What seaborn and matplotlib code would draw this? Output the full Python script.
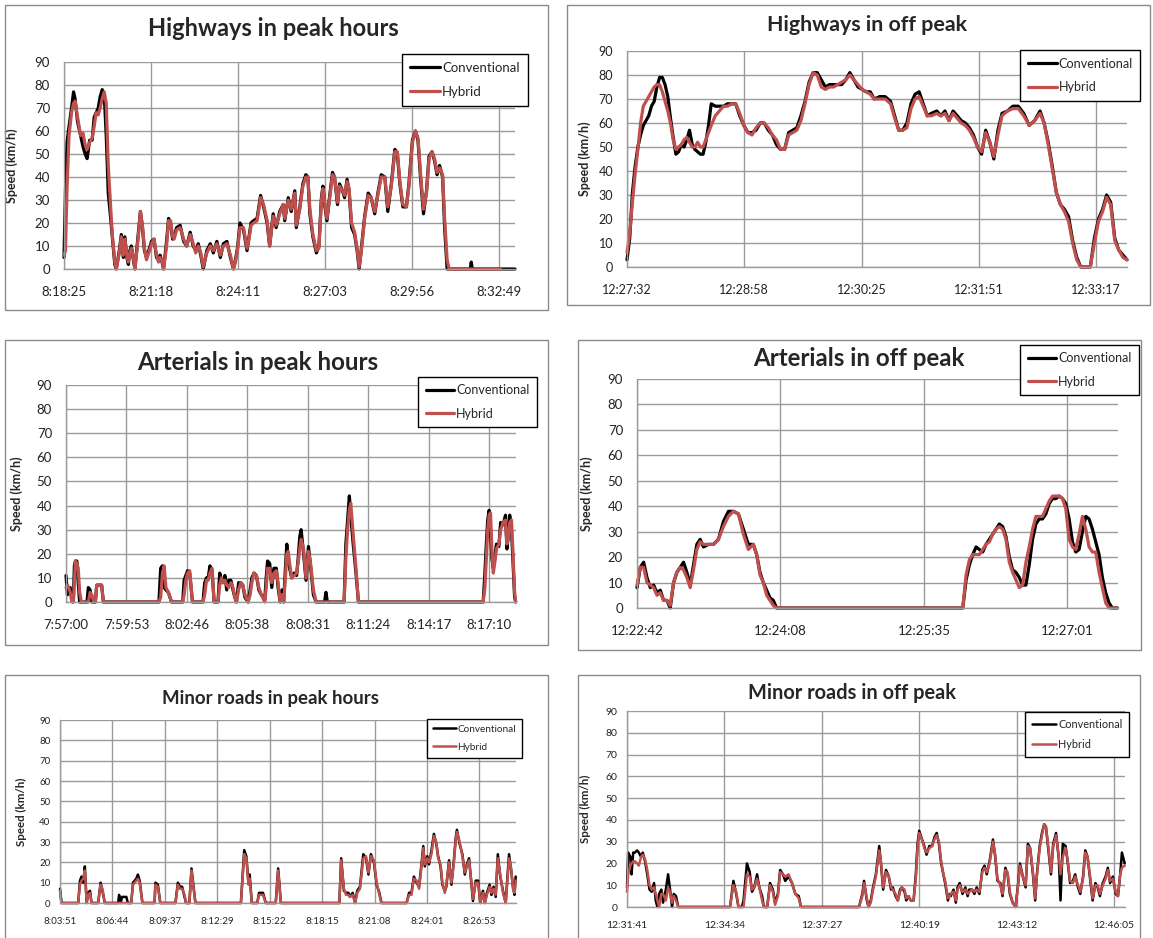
import numpy as np
import pandas as pd
import matplotlib
matplotlib.use("Agg")
import matplotlib.pyplot as plt
import seaborn as sns
from matplotlib.patches import Rectangle
from matplotlib.lines import Line2D

# ---------------- DATA ----------------
# Highways in peak hours (seconds from 8:18:25)
hp_t = [0, 3, 6, 10, 15, 19, 22, 27, 33, 38, 42, 46, 51, 56, 60, 64, 68, 72, 76, 80, 84, 88, 92, 96, 101, 104,
        110, 114, 118, 121, 125, 128, 131, 134, 138, 141, 145, 149, 152, 156, 160, 164, 170, 174, 179, 184,
        188, 191, 195, 198, 204, 208, 212, 216, 219, 224, 231, 238, 244, 251, 257, 262, 267, 272, 277, 284,
        291, 297, 304, 311, 317, 324, 331, 337, 341, 345, 350, 357, 364, 368, 372, 377, 384, 391, 397, 404,
        409, 416, 422, 429, 436, 439, 446, 452, 459, 462, 469, 475, 481, 485, 489, 495, 502, 507, 512, 515,
        519, 523, 528, 534, 538, 544, 548, 554, 558, 563, 567, 572, 578, 583, 587, 591, 598, 605, 611, 618,
        625, 631, 638, 644, 651, 658, 663, 668, 674, 681, 686, 693, 699, 704, 709, 715, 721, 726, 732, 737,
        742, 747, 753, 757, 762, 766, 808, 810, 812, 868, 897]
hp_conv = [5, 35, 55, 62, 70, 77, 74, 64, 58, 53, 50, 48, 56, 56, 66, 68, 70, 75, 78, 76, 58, 33, 24, 14, 2, 0,
           8, 15, 5, 14, 5, 2, 8, 10, 4, 0, 9, 18, 25, 18, 8, 5, 9, 12, 13, 5,
           4, 6, 3, 0, 12, 22, 20, 13, 14, 18, 19, 12, 10, 16, 10, 8, 11, 6, 0, 8,
           11, 7, 12, 5, 11, 12, 5, 0, 4, 9, 20, 17, 8, 14, 20, 21, 22, 32, 27, 20,
           10, 24, 18, 25, 28, 21, 31, 25, 34, 18, 27, 37, 41, 40, 24, 14, 7, 10, 31, 36,
           27, 21, 31, 42, 40, 28, 37, 34, 31, 39, 34, 18, 15, 8, 0, 8, 23, 33, 31, 24,
           34, 41, 40, 25, 37, 52, 50, 37, 27, 27, 37, 56, 60, 56, 40, 24, 34, 49, 51, 47,
           41, 45, 40, 18, 0, 0, 0, 3, 0, 0, 0]
hp_hyb = [6, 8, 35, 58, 68, 72, 73, 66, 58, 59, 54, 52, 55, 57, 62, 68, 67, 70, 74, 77, 72, 45, 30, 15, 3, 0,
          7, 14, 6, 13, 6, 3, 7, 9, 5, 0, 8, 17, 25, 19, 9, 4, 8, 11, 13, 6,
          3, 5, 4, 0, 10, 21, 21, 14, 13, 17, 18, 13, 10, 15, 11, 7, 10, 7, 1, 7,
          10, 8, 11, 6, 10, 11, 6, 0, 3, 8, 18, 18, 9, 13, 19, 20, 21, 31, 28, 21,
          10, 23, 19, 24, 28, 22, 30, 26, 33, 19, 26, 36, 40, 40, 26, 15, 8, 9, 30, 35,
          28, 22, 30, 41, 40, 29, 36, 34, 32, 38, 35, 20, 16, 9, 1, 7, 22, 32, 31, 25,
          33, 40, 40, 27, 36, 51, 51, 38, 28, 27, 36, 55, 60, 57, 42, 26, 33, 48, 51, 48,
          42, 44, 41, 22, 4, 0, 0, 0, 0, 0, np.nan]
hp_labels = ["8:18:25", "8:21:18", "8:24:11", "8:27:03", "8:29:56", "8:32:49"]

# Highways in off peak (seconds from 12:27:32)
ho_t = [0, 2, 4, 6, 8, 10, 12, 14, 16, 18, 20, 22, 24, 26, 28, 30, 32, 34, 36, 38, 40, 42, 44, 46, 48, 50,
        52, 54, 56, 58, 60, 62,
        65, 68, 71, 74, 77, 80, 83, 86, 89, 92, 95, 98, 101, 104, 107, 110, 113, 116, 119, 122, 125, 128,
        131, 134, 137, 140, 143, 146, 149, 152, 155, 158, 161, 164, 167, 170, 173,
        176, 179, 182, 186, 190, 194, 197, 200, 203, 206, 209, 212, 215, 218, 221, 224, 228, 231, 234, 237,
        240, 243, 246, 249, 252, 255, 258, 261, 264, 267, 270, 273, 276, 280, 284, 288, 292, 296, 300, 304,
        307, 310, 313, 316, 319, 322, 325, 328, 331, 334, 338, 341, 344, 347, 350, 353, 356, 359, 362, 365, 368]
ho_conv = [3, 12, 31, 42, 50, 55, 59, 61, 63, 67, 69, 75, 79, 79, 76, 71, 62, 54, 47, 48, 51, 50, 53, 57, 51, 49,
           48, 47, 47, 52, 59, 68,
           67, 67, 67, 68, 68, 68, 63, 59, 56, 56, 57, 60, 60, 57, 55, 51, 49, 49, 56, 57, 58, 63,
           69, 77, 81, 81, 78, 75, 76, 76, 76, 76, 78, 81, 78, 75, 74,
           73, 73, 70, 71, 71, 69, 63, 57, 57, 60, 68, 72, 73, 68, 63, 64, 65, 63, 65, 61,
           65, 63, 61, 60, 58, 55, 50, 47, 57, 52, 45, 57, 64, 65, 67, 67, 64, 59, 61, 65,
           60, 52, 42, 31, 26, 24, 21, 11, 4, 0, 0, 0, 12, 20, 24, 30, 27, 12, 7, 5, 3]
ho_hyb = [6, 14, 27, 39, 49, 60, 67, 69, 71, 73, 75, 76, 76, 73, 69, 65, 60, 53, 49, 50, 51, 53, 54, 52, 50, 50,
          52, 50, 50, 53, 56, 59,
          63, 65, 67, 67, 68, 68, 64, 59, 56, 55, 58, 60, 60, 58, 55, 53, 49, 49, 55, 56, 57, 61,
          68, 76, 81, 80, 75, 74, 75, 75, 76, 77, 78, 80, 78, 76, 74,
          73, 72, 70, 70, 70, 68, 62, 57, 57, 58, 66, 70, 71, 67, 63, 63, 64, 63, 64, 61,
          64, 62, 60, 59, 57, 54, 50, 48, 56, 52, 46, 55, 63, 65, 66, 66, 63, 59, 61, 64,
          60, 51, 41, 31, 26, 23, 19, 10, 3, 0, 0, 0, 10, 19, 23, 29, 26, 11, 7, 4, 3]
ho_labels = ["12:27:32", "12:28:58", "12:30:25", "12:31:51", "12:33:17"]

# Arterials in peak hours (seconds from 7:57:00)
ap_t = [0, 4, 8, 12, 17, 21, 24, 27, 31, 35, 39, 44, 60, 64, 69, 74, 79, 84, 88, 92,
        102, 107, 266, 271, 276, 281, 286, 293, 302, 334, 338, 343, 348, 354, 362, 392, 397, 402, 407, 412,
        418, 424, 435, 440, 445, 449, 455, 460, 466, 472, 478, 483, 488, 494, 500, 506, 512, 521, 527, 532,
        538, 545, 552, 559, 569, 573, 577, 583, 589, 595, 602, 607, 613, 618, 623, 628, 632, 636, 640, 646,
        653, 660, 665, 669, 673, 680, 687, 694, 700, 708, 716, 740, 744, 748, 796, 801, 806, 811, 815, 822,
        830, 837, 1194, 1199, 1203, 1207, 1211, 1215, 1219, 1223, 1227, 1232, 1239, 1244, 1251, 1258, 1262,
        1266, 1270, 1275, 1279, 1284, 1287]
ap_conv = [11, 3, 5, 6, 2, 0, 15, 17, 17, 8, 0, 0, 0, 6, 5, 0, 0, 0, 7, 7,
           7, 0, 0, 14, 15, 6, 5, 4, 0, 0, 9, 11, 13, 12, 0, 0, 8, 10, 10, 15,
           13, 0, 0, 12, 9, 8, 11, 5, 9, 9, 5, 2, 0, 8, 8, 7, 2, 0, 5, 10,
           12, 11, 5, 3, 1, 10, 17, 16, 6, 14, 14, 6, 0, 5, 0, 14, 24, 18, 14, 10,
           12, 11, 19, 27, 30, 20, 9, 23, 15, 3, 0, 0, 4, 0, 0, 24, 34, 44, 36, 24,
           12, 0, 0, 12, 24, 34, 38, 30, 18, 14, 18, 24, 23, 33, 32, 36, 22,
           28, 36, 30, 18, 2, 0]
ap_hyb = [6, 7, 6, 4, 0, 0, 8, 17, 16, 14, 4, 0, 0, 0, 4, 3, 0, 0, 7, 7,
          7, 0, 0, 2, 12, 15, 6, 4, 0, 0, 3, 9, 12, 13, 0, 0, 3, 9, 9, 12,
          14, 0, 0, 7, 10, 8, 9, 7, 6, 8, 6, 2, 0, 5, 8, 7, 3, 0, 3, 8,
          12, 11, 6, 3, 0, 6, 14, 14, 8, 12, 13, 8, 0, 3, 0, 10, 20, 21, 16, 10,
          11, 12, 17, 22, 26, 22, 10, 21, 16, 5, 0, 0, 0, 0, 0, 18, 30, 38, 41, 28,
          14, 0, 0, 6, 18, 30, 36, 37, 22, 12, 16, 22, 24, 30, 33, 34, 24,
          26, 33, 34, 22, 4, 0]
ap_labels = ["7:57:00", "7:59:53", "8:02:46", "8:05:38", "8:08:31", "8:11:24", "8:14:17", "8:17:10"]

# Arterials in off peak (seconds from 12:22:42)
ao_t = [0, 2, 4, 6, 8, 10, 12, 14, 16, 18, 20, 22, 24, 26, 28, 30, 32, 34, 36, 38,
        40, 43, 46, 49, 52, 55, 58, 61, 64, 67, 70, 72, 74, 76, 78, 80, 82, 84, 196, 198,
        200, 202, 204, 206, 208, 210, 212, 214, 216, 218, 220, 222, 224, 226, 228, 230, 232, 234, 236, 238,
        240, 242, 244, 246, 248, 250, 252, 254, 256, 258, 260, 262, 264, 266, 268, 270, 272, 274, 276, 278,
        280, 282, 284, 286, 289]
ao_conv = [8, 16, 18, 12, 8, 9, 6, 7, 3, 3, 0, 10, 14, 16, 18, 14, 9, 17, 25, 27,
           24, 25, 25, 27, 34, 38, 38, 37, 31, 25, 25, 21, 14, 10, 7, 4, 3, 0, 0, 11,
           17, 21, 24, 23, 22, 25, 27, 29, 31, 33, 32, 28, 20, 15, 14, 12, 9, 9, 17, 27,
           33, 35, 35, 37, 41, 43, 43, 44, 43, 41, 35, 26, 22, 23, 30, 36, 35, 31, 26, 21,
           12, 6, 2, 0, 0]
ao_hyb = [9, 16, 16, 10, 9, 8, 5, 6, 3, 3, 1, 10, 14, 16, 15, 12, 8, 15, 23, 26,
          25, 25, 25, 27, 32, 36, 38, 37, 29, 23, 25, 21, 13, 10, 5, 3, 1, 0, 0, 13,
          19, 21, 21, 21, 23, 25, 26, 29, 31, 32, 31, 27, 18, 14, 11, 8, 9, 18, 24, 31,
          36, 36, 36, 39, 42, 44, 44, 44, 43, 39, 27, 24, 23, 29, 36, 31, 24, 22, 22, 14,
          8, 2, 0, 0, 0]
ao_labels = ["12:22:42", "12:24:08", "12:25:35", "12:27:01"]

# Minor roads in peak hours (seconds from 8:03:51)
mp_t = [0, 5, 60, 66, 71, 77, 82, 88, 93, 99, 104, 126, 134, 140, 148, 192, 195, 200, 205, 212,
        219, 224, 235, 241, 252, 257, 263, 272, 312, 315, 323, 331, 381, 389, 396, 403, 411, 416, 427, 434,
        440, 447, 597, 608, 615, 622, 626, 633, 651, 657, 665, 670, 679, 712, 720, 729, 922, 928, 937, 944,
        952, 957, 966, 974, 981, 990, 1001, 1010, 1018, 1026, 1036, 1045, 1054, 1061, 1144, 1152, 1160, 1168,
        1177, 1185, 1193, 1199, 1204, 1212, 1218, 1226, 1234, 1242, 1248, 1256, 1262, 1270, 1275, 1284, 1292,
        1300, 1306, 1310, 1319, 1328, 1336, 1343, 1350, 1358, 1363, 1372, 1380, 1387, 1396, 1402, 1409, 1418,
        1424, 1431, 1438, 1445, 1453, 1462, 1471, 1475, 1482, 1489, 1495, 1500, 1504]
mp_conv = [7, 0, 0, 11, 13, 10, 18, 0, 5, 6, 0, 0, 10, 6, 0, 0, 4, 0, 3, 3,
           3, 0, 0, 10, 12, 14, 11, 0, 0, 10, 9, 0, 0, 10, 8, 8, 3, 0, 0, 17,
           9, 0, 0, 26, 23, 10, 14, 0, 0, 5, 5, 5, 0, 0, 17, 0, 0, 22, 6, 5,
           5, 3, 5, 0, 6, 8, 24, 22, 14, 24, 20, 9, 5, 0, 0, 5, 5, 13,
           10, 8, 19, 28, 18, 23, 19, 26, 34, 29, 23, 18, 9, 6, 8, 21, 9,
           21, 32, 36, 29, 24, 14, 19, 22, 9, 1, 11, 11, 0, 6, 0, 5, 9,
           4, 8, 3, 24, 13, 6, 0, 9, 24, 16, 8, 4, 13]
mp_hyb = [6, 0, 0, 9, 11, 12, 16, 0, 4, 5, 0, 0, 9, 7, 0, 0, 0, 0, 0, 0,
          0, 0, 0, 9, 11, 12, 10, 0, 0, 9, 8, 0, 0, 9, 7, 7, 4, 0, 0, 16,
          8, 0, 0, 24, 22, 9, 12, 0, 0, 4, 4, 4, 0, 0, 16, 0, 0, 21, 7, 4,
          4, 3, 4, 0, 5, 7, 22, 23, 15, 23, 21, 10, 4, 0, 0, 4, 4, 12,
          11, 7, 18, 27, 19, 22, 20, 24, 33, 30, 22, 19, 10, 5, 9, 20, 10,
          20, 31, 35, 30, 23, 15, 18, 21, 10, 2, 10, 10, 0, 5, 0, 4, 8,
          5, 7, 4, 22, 14, 5, 0, 8, 22, 17, 7, 5, 11]
mp_labels = ["8:03:51", "8:06:44", "8:09:37", "8:12:29", "8:15:22", "8:18:15", "8:21:08", "8:24:01", "8:26:53"]

# Minor roads in off peak (seconds from 12:31:41)
mo_t = [0, 2, 6, 8, 11, 14, 18, 21, 25, 28, 32, 36, 40, 44, 48, 51, 54, 57, 61, 64,
        69, 73, 76, 80, 83, 87, 91, 183, 189, 194, 198, 204, 207, 213, 218, 222, 226, 231, 235, 240,
        243, 249, 254, 259, 263, 268, 272, 277, 281, 287, 293, 299, 305, 309, 412, 418, 421, 426, 429, 433,
        437, 442, 448, 451, 455, 460, 465, 469, 472, 477, 481, 485, 488, 493, 496, 500, 504, 509, 513, 516,
        519, 524, 528, 532, 537, 542, 546, 550, 554, 558, 562, 565, 570, 573, 575, 580, 584, 587, 591, 596,
        601, 605, 608, 613, 617, 621, 626, 631, 635, 639, 644, 650, 654, 658, 663, 667, 672, 676, 680, 685,
        690, 694, 698, 703, 708, 712, 716, 721, 725, 728, 733, 737, 741, 744, 749, 753, 757, 762, 767, 770,
        774, 779, 783, 787, 792, 796, 801, 805, 810, 814, 818, 823, 827, 832, 836, 840, 845, 850, 854, 858,
        863, 868, 872, 876, 879, 884]
mo_conv = [9, 25, 23, 15, 25, 25, 26, 25, 23, 25, 21, 15, 8, 7, 11, 3, 0, 6, 8, 2,
           8, 15, 9, 0, 6, 5, 0, 0, 12, 6, 0, 0, 3, 20, 16, 7, 9, 15, 9, 5,
           0, 0, 11, 8, 2, 6, 17, 15, 12, 14, 11, 6, 5, 0, 0, 6, 12, 3, 0, 3,
           9, 15, 28, 20, 8, 17, 14, 8, 9, 5, 3, 8, 9, 7, 3, 5, 3, 3, 15, 29,
           35, 31, 28, 24, 28, 28, 32, 34, 29, 20, 15, 11, 3, 6, 5, 8, 2, 9, 11, 6,
           9, 5, 8, 8, 6, 9, 6, 17, 19, 15, 21, 31, 23, 12, 11, 5, 18, 15, 6, 2,
           0, 9, 20, 14, 9, 29, 27, 15, 3, 15, 28, 34, 38, 37, 25, 15, 29, 34, 22, 3,
           29, 28, 20, 11, 12, 15, 9, 6, 14, 26, 23, 12, 3, 11, 9, 5, 11, 14, 18, 11,
           14, 6, 5, 15, 25, 20]
mo_hyb = [7, 15, 19, 20, 21, 21, 20, 19, 23, 24, 22, 17, 10, 8, 9, 6, 3, 0, 6, 6,
          3, 9, 7, 2, 5, 3, 0, 0, 10, 7, 0, 0, 0, 15, 14, 8, 9, 13, 9, 3,
          0, 0, 10, 7, 1, 5, 16, 15, 14, 15, 11, 6, 4, 0, 0, 5, 11, 4, 0, 2,
          8, 14, 26, 21, 9, 16, 14, 9, 8, 6, 3, 7, 9, 8, 4, 5, 3, 3, 13, 27,
          34, 31, 27, 25, 27, 28, 31, 33, 30, 21, 15, 12, 4, 5, 6, 7, 3, 8, 10, 7,
          8, 6, 7, 8, 7, 8, 7, 16, 18, 16, 20, 30, 24, 13, 10, 6, 17, 16, 7, 2,
          0, 8, 19, 14, 10, 28, 27, 16, 4, 14, 27, 33, 38, 37, 26, 16, 28, 33, 23, 15,
          23, 27, 21, 12, 11, 14, 10, 7, 13, 25, 23, 13, 4, 10, 10, 6, 10, 13, 17, 12,
          13, 7, 5, 15, 18, 19]
mo_labels = ["12:31:41", "12:34:34", "12:37:27", "12:40:19", "12:43:12", "12:46:05"]

# ---------------- STYLE ----------------
sns.set_style("white")
plt.rcParams['font.family'] = ['Lato', 'DejaVu Sans']

W, H = 1153, 938
fig = plt.figure(figsize=(W / 100, H / 100), dpi=100)

CONV_C = "#000000"
HYB_C = "#C0504D"
GRID_C = "#9A9A9A"
BORDER_C = "#8A8A8A"


def fx(x):
    return x / W


def fy(y):
    return 1 - y / H


def draw_panel(t, conv, hyb, labels, step, span, title, g):
    bx0, by0, bx1, by1 = g['border']
    fig.patches.append(Rectangle((fx(bx0), fy(by1)), (bx1 - bx0) / W, (by1 - by0) / H,
                                 transform=fig.transFigure, fill=False,
                                 edgecolor=BORDER_C, lw=1.0, zorder=0))
    px0, py0, px1, py1 = g['plot']
    ax = fig.add_axes([fx(px0), fy(py1), (px1 - px0) / W, (py1 - py0) / H])
    df = pd.DataFrame({"t": t, "Conventional": conv, "Hybrid": hyb})
    sns.lineplot(data=df, x="t", y="Conventional", ax=ax, color=CONV_C, lw=g['lw'],
                 estimator=None, legend=False)
    sns.lineplot(data=df, x="t", y="Hybrid", ax=ax, color=HYB_C, lw=g['lw'],
                 estimator=None, legend=False)
    for ln in ax.lines:
        ln.set_clip_on(False)
        ln.set_solid_joinstyle('round')
    ax.set_xlim(0, span)
    ax.set_ylim(0, 90)
    ax.set_yticks(range(0, 91, 10))
    ax.set_xticks([i * step for i in range(len(labels))])
    ax.set_xticklabels(labels)
    ax.grid(True, color=GRID_C, lw=1.0)
    ax.set_axisbelow(True)
    for s in ['top', 'right']:
        ax.spines[s].set_visible(False)
    for s in ['left', 'bottom']:
        ax.spines[s].set_color(GRID_C)
        ax.spines[s].set_linewidth(1.0)
    ax.tick_params(axis='x', length=0, pad=g['xpad'], labelsize=g['tick'], colors='#222222')
    ax.tick_params(axis='y', length=0, pad=g['ypad'], labelsize=g['tick'], colors='#222222')
    ax.set_xlabel("")
    ax.set_ylabel("Speed (km/h)", fontsize=g['ylab'], fontweight='bold')
    ax.yaxis.set_label_coords((g['ylx'] - px0) / (px1 - px0), 0.5)
    fig.text(fx(g['title_xy'][0]), fy(g['title_xy'][1]), title, ha='center', va='center',
             fontsize=g['tsize'], fontweight='bold')
    handles = [Line2D([], [], color=CONV_C, lw=g['lw']), Line2D([], [], color=HYB_C, lw=g['lw'])]
    leg = ax.legend(handles, ["Conventional", "Hybrid"], loc='upper left',
                    bbox_to_anchor=(fx(g['leg'][0]), fy(g['leg'][1])),
                    bbox_transform=fig.transFigure, borderaxespad=0, frameon=True,
                    fancybox=False, edgecolor='black', framealpha=1, fontsize=g['lfs'],
                    handlelength=2.3, handletextpad=0.15, borderpad=0.6, labelspacing=0.9)
    leg.get_frame().set_linewidth(1.0)
    return ax


big = dict(lw=2.3, tick=9.5, ylab=9, tsize=17, lfs=9.5, xpad=12, ypad=10)
small = dict(lw=1.8, tick=7, ylab=8.3, tsize=13.4, lfs=7.2, xpad=10, ypad=7)

draw_panel(hp_t, hp_conv, hp_hyb, hp_labels, 173, 897, "Highways in peak hours",
           dict(big, border=(5, 5, 548, 310), plot=(64, 62, 515, 269), title_xy=(273, 28),
                leg=(402, 54), ylx=18))
draw_panel(ho_t, ho_conv, ho_hyb, ho_labels, 86.3, 368, "Highways in off peak",
           dict(big, tick=9, tsize=15.4, lfs=9.1, border=(567, 5, 1150, 305), plot=(627, 51, 1127, 267),
                title_xy=(867, 25), leg=(1020, 50), ylx=591))
draw_panel(ap_t, ap_conv, ap_hyb, ap_labels, 173, 1288, "Arterials in peak hours",
           dict(big, tsize=17.4, lfs=9.0, border=(5, 340, 548, 645), plot=(66, 385, 516, 602),
                title_xy=(258, 363), leg=(418, 377), ylx=23))
draw_panel(ao_t, ao_conv, ao_hyb, ao_labels, 86.33, 289.4, "Arterials in off peak",
           dict(big, tsize=17.4, lfs=9.0, border=(578, 340, 1141, 650), plot=(637, 379, 1118, 608),
                title_xy=(859, 358), leg=(1020, 345), ylx=593))
draw_panel(mp_t, mp_conv, mp_hyb, mp_labels, 173, 1505, "Minor roads in peak hours",
           dict(small, border=(5, 675, 548, 945), plot=(60, 720, 516, 903), title_xy=(270, 698),
                leg=(427, 719), ylx=27))
draw_panel(mo_t, mo_conv, mo_hyb, mo_labels, 173, 884.5, "Minor roads in off peak",
           dict(small, tick=7.5, tsize=14.4, lfs=7.8, border=(578, 675, 1140, 945),
                plot=(627, 711, 1125, 907), title_xy=(852, 693), leg=(1025, 712), ylx=591))

fig.savefig("out.png", dpi=100, facecolor='white')
